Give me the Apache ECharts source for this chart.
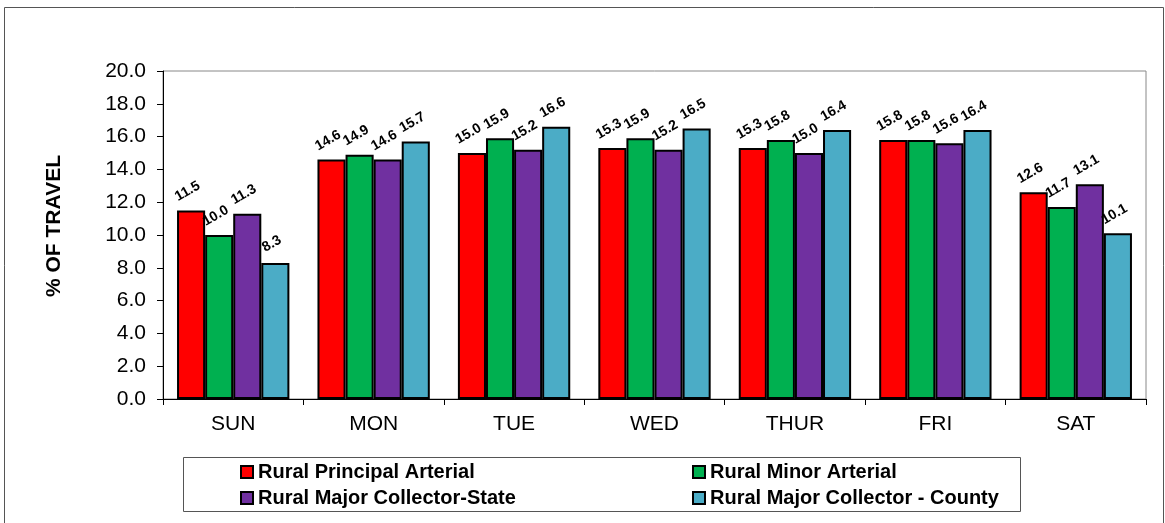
<!DOCTYPE html>
<html>
<head>
<meta charset="utf-8">
<script src="https://cdn.jsdelivr.net/npm/echarts@6/dist/echarts.min.js"></script>
<style>
  html, body { margin: 0; padding: 0; background: #fff; }
  #chart { width: 1165px; height: 523px; }
</style>
</head>
<body>
<div id="chart"></div>
<script>
var days = ['SUN', 'MON', 'TUE', 'WED', 'THUR', 'FRI', 'SAT']
var principalArterial = [11.5, 14.6, 15.0, 15.3, 15.3, 15.8, 12.6]
var minorArterial = [10.0, 14.9, 15.9, 15.9, 15.8, 15.8, 11.7]
var collectorState = [11.3, 14.6, 15.2, 15.2, 15.0, 15.6, 13.1]
var collectorCounty = [8.3, 15.7, 16.6, 16.5, 16.4, 16.4, 10.1]

var seriesNames = [
  'Rural Principal Arterial',
  'Rural Minor Arterial',
  'Rural Major Collector-State',
  'Rural Major Collector - County'
]
var seriesColors = ['#FF0000', '#00B050', '#7030A0', '#4BACC6']
var seriesData = [principalArterial, minorArterial, collectorState, collectorCounty]

var font = 'Arial, "Liberation Sans", sans-serif'

function makeSeries (i) {
  return {
    name: seriesNames[i],
    type: 'bar',
    data: seriesData[i],
    barGap: '0%',
    barCategoryGap: '20%',
    itemStyle: {
      color: seriesColors[i],
      borderColor: '#000',
      borderWidth: 2
    },
    label: {
      show: true,
      position: 'top',
      distance: 13,
      rotate: 30,
      color: '#000',
      fontFamily: font,
      fontWeight: 'bold',
      fontSize: 14,
      formatter: function (p) { return p.value.toFixed(1) }
    }
  }
}

var legendText = {
  fontFamily: font,
  fontWeight: 'bold',
  fontSize: 20,
  lineHeight: 24,
  color: '#000'
}
var legendIcon = { borderColor: '#000', borderWidth: 2 }

var chart = echarts.init(document.getElementById('chart'))
chart.setOption({
  animation: false,
  backgroundColor: '#fff',
  graphic: [
    {
      type: 'rect',
      shape: { x: 4.5, y: 7.5, width: 1159, height: 520 },
      style: { fill: 'none', stroke: '#555', lineWidth: 1 },
      silent: true
    },
    {
      type: 'rect',
      shape: { x: 183.5, y: 457.5, width: 837, height: 54 },
      style: { fill: 'none', stroke: '#555', lineWidth: 1 },
      silent: true
    }
  ],
  grid: {
    left: 163,
    right: 19,
    top: 71,
    bottom: 124,
    show: true,
    borderColor: '#888',
    borderWidth: 1
  },
  legend: [
    {
      data: [seriesNames[0], seriesNames[2]],
      orient: 'vertical',
      left: 235,
      top: 455,
      itemGap: 2,
      icon: 'rect',
      itemWidth: 12,
      itemHeight: 12,
      itemStyle: legendIcon,
      textStyle: legendText,
      selectedMode: false
    },
    {
      data: [seriesNames[1], seriesNames[3]],
      orient: 'vertical',
      left: 687,
      top: 455,
      itemGap: 2,
      icon: 'rect',
      itemWidth: 12,
      itemHeight: 12,
      itemStyle: legendIcon,
      textStyle: legendText,
      selectedMode: false
    }
  ],
  xAxis: {
    type: 'category',
    data: days,
    axisLine: { lineStyle: { color: '#000', width: 1 } },
    axisTick: { show: true, length: 6, lineStyle: { color: '#000' } },
    axisLabel: {
      color: '#000',
      fontFamily: font,
      fontSize: 21,
      margin: 15
    }
  },
  yAxis: {
    type: 'value',
    min: 0,
    max: 20,
    interval: 2,
    name: '% OF TRAVEL',
    nameLocation: 'middle',
    nameGap: 98,
    nameTextStyle: {
      color: '#000',
      fontFamily: font,
      fontWeight: 'bold',
      fontSize: 21,
      padding: [0, 0, 0, 18]
    },
    axisLine: { show: true, lineStyle: { color: '#000', width: 1 } },
    axisTick: { show: true, length: 6, lineStyle: { color: '#000' } },
    splitLine: { show: false },
    axisLabel: {
      color: '#000',
      fontFamily: font,
      fontSize: 21,
      margin: 17,
      formatter: function (v) { return v.toFixed(1) }
    }
  },
  series: [0, 1, 2, 3].map(makeSeries)
})
</script>
</body>
</html>
